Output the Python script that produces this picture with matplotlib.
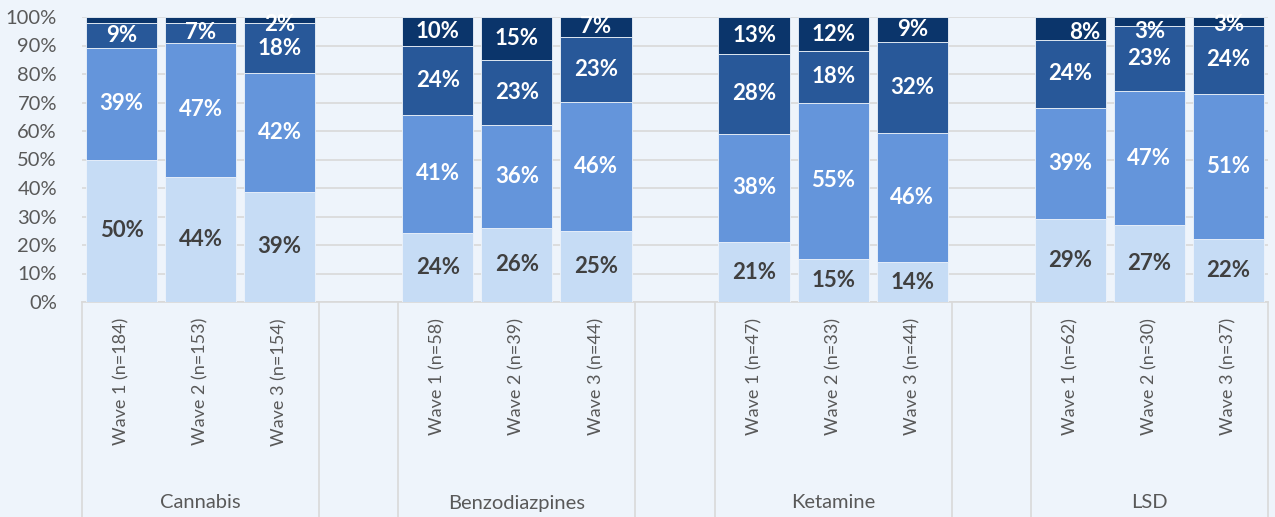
import matplotlib.pyplot as plt
import numpy as np

plt.rcParams['font.family'] = ['Lato', 'DejaVu Sans']

groups = ["Cannabis", "Benzodiazpines", "Ketamine", "LSD"]
waves = [["Wave 1 (n=184)", "Wave 2 (n=153)", "Wave 3 (n=154)"],
         ["Wave 1 (n=58)", "Wave 2 (n=39)", "Wave 3 (n=44)"],
         ["Wave 1 (n=47)", "Wave 2 (n=33)", "Wave 3 (n=44)"],
         ["Wave 1 (n=62)", "Wave 2 (n=30)", "Wave 3 (n=37)"]]

# stack levels, bottom to top (12 bars in group order)
level1 = [50, 44, 39, 24, 26, 25, 21, 15, 14, 29, 27, 22]
level2 = [39, 47, 42, 41, 36, 46, 38, 55, 46, 39, 47, 51]
level3 = [9, 7, 18, 24, 23, 23, 28, 18, 32, 24, 23, 24]
level4 = [2, 2, 2, 10, 15, 7, 13, 12, 9, 8, 3, 3]
# top segment labels hidden on the first two cannabis bars
show_top = [False, False, True] + [True] * 9
# nudges of the small top labels (x in slots, y in percent points)
top_dx = [0, 0, 0, 0, 0, 0, 0, 0, 0, 0.18, 0, 0]
top_dy = [0, 0, -1.5, 0, 0, 0, 0, 0, 0, -1.5, -3.5, -1.0]

colors = ["#C6DCF5", "#6495DB", "#285899", "#0B356B"]
text_colors = ["#404040", "white", "white", "white"]
bg = "#EEF4FB"
grid_c = "#D9D9D9"
axis_txt = "#595959"

fig = plt.figure(figsize=(12.75, 5.17), dpi=100, facecolor=bg)
ax = fig.add_axes([82 / 1275, 1 - 302 / 517, (1268 - 82) / 1275, 285 / 517])
ax.set_facecolor(bg)

x = []
for g in range(len(groups)):
    x += [g * 4 + i for i in range(3)]
x = np.array(x)

data = np.array([level1, level2, level3, level4], dtype=float)
pct = data / data.sum(axis=0) * 100

bottom = np.zeros(len(x))
for k in range(4):
    ax.bar(x, pct[k], 0.9, bottom=bottom, color=colors[k],
           edgecolor=bg, linewidth=0.6, zorder=3)
    for i in range(len(x)):
        dx, dy = 0, 0
        if k == 3:
            if not show_top[i]:
                continue
            dx, dy = top_dx[i], top_dy[i]
        ax.text(x[i] + dx, bottom[i] + pct[k][i] / 2 + dy, f"{int(data[k][i])}%",
                ha="center", va="center", color=text_colors[k],
                fontsize=16, fontweight="bold", zorder=4)
    bottom += pct[k]

ax.set_xlim(-0.5, 14.5)
ax.set_ylim(0, 100)
ax.set_yticks(np.arange(0, 101, 10))
ax.set_yticklabels([f"{v}%" for v in range(0, 101, 10)], fontsize=14.5, color=axis_txt)
ax.tick_params(axis="y", length=0, pad=18)
ax.set_xticks([])
ax.yaxis.grid(True, color=grid_c, linewidth=1.2, zorder=0)
for s in ["top", "right", "left"]:
    ax.spines[s].set_visible(False)
ax.spines["bottom"].set_color(grid_c)
ax.spines["bottom"].set_linewidth(1.2)

# category axis
trans = ax.get_xaxis_transform()
y_bot = -302 / 285
for xb in [-0.5, 2.5, 3.5, 6.5, 7.5, 10.5, 11.5, 14.5]:
    ax.plot([xb, xb], [0, y_bot], color=grid_c, linewidth=1.2,
            transform=trans, clip_on=False)
for i in range(len(x)):
    g, w = divmod(i, 3)
    ax.text(x[i], -16 / 285, waves[g][w], rotation=90, ha="center", va="top",
            fontsize=13, color=axis_txt, transform=trans)
for g, name in enumerate(groups):
    ax.text(g * 4 + 1, -201 / 285, name, ha="center", va="center",
            fontsize=14.5, color=axis_txt, transform=trans)

fig.savefig("out.png", dpi=100, facecolor=bg)
